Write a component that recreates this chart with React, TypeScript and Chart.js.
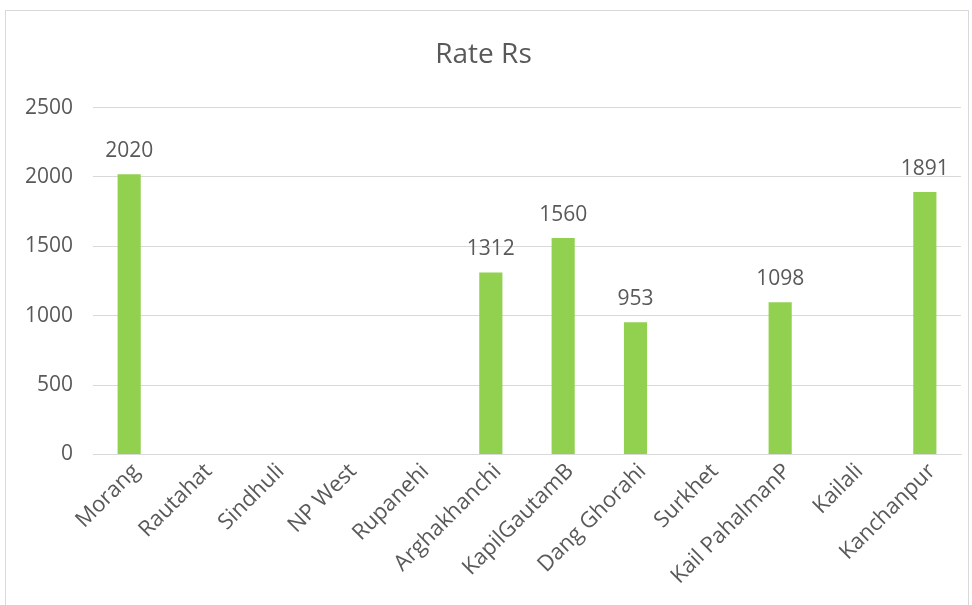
import React, { useEffect, useRef } from "react";
import { Chart, registerables } from "chart.js";

Chart.register(...registerables);

const chartTitle = "Rate Rs";
const categories = [
  "Morang",
  "Rautahat",
  "Sindhuli",
  "NP West",
  "Rupanehi",
  "Arghakhanchi",
  "KapilGautamB",
  "Dang Ghorahi",
  "Surkhet",
  "Kail PahalmanP",
  "Kailali",
  "Kanchanpur",
];
const rateValues: (number | null)[] = [2020, null, null, null, null, 1312, 1560, 953, null, 1098, null, 1891];
const yTicks = [0, 500, 1000, 1500, 2000, 2500];

const FONT = "'Open Sans', sans-serif";
const TEXT = "#595959";
const GRID = "#d9d9d9";
const BAR = "#92D050";

const dataLabels = {
  id: "dataLabels",
  afterDatasetsDraw(chart: any) {
    const ctx = chart.ctx;
    const meta = chart.getDatasetMeta(0);
    ctx.save();
    ctx.font = `21px ${FONT}`;
    ctx.fillStyle = TEXT;
    ctx.textAlign = "center";
    ctx.textBaseline = "alphabetic";
    meta.data.forEach((el: any, i: number) => {
      const v = rateValues[i];
      if (v === null || v === undefined) return;
      ctx.fillText(String(v), el.x, el.y - 17);
    });
    ctx.restore();
  },
};

export default function App() {
  const ref = useRef<HTMLCanvasElement | null>(null);
  useEffect(() => {
    if (!ref.current) return;
    const chart = new Chart(ref.current, {
      type: "bar",
      data: {
        labels: categories,
        datasets: [
          {
            label: chartTitle,
            data: rateValues,
            backgroundColor: BAR,
            borderWidth: 0,
            barPercentage: 0.32,
            categoryPercentage: 1,
          },
        ],
      },
      options: {
        responsive: false,
        animation: false,
        layout: { padding: { left: 0, right: 7, top: 0, bottom: 0 } },
        plugins: {
          legend: { display: false },
          tooltip: { enabled: false },
          title: {
            display: true,
            text: chartTitle,
            color: TEXT,
            font: { family: FONT, size: 28, weight: "normal", lineHeight: 1.2 },
            padding: { top: 27, bottom: 36 },
          },
        },
        scales: {
          x: {
            grid: { display: false, drawTicks: false },
            border: { display: true, color: GRID, width: 1 },
            ticks: {
              color: TEXT,
              font: { family: FONT, size: 22 },
              minRotation: 45,
              maxRotation: 45,
              padding: 4,
              labelOffset: 7,
              autoSkip: false,
            },
            afterFit: (s: any) => {
              s.height = 154.5;
            },
          },
          y: {
            min: 0,
            max: 2500,
            afterBuildTicks: (s: any) => {
              s.ticks = yTicks.map((v) => ({ value: v }));
            },
            grid: { color: GRID, lineWidth: 1, drawTicks: false },
            border: { display: false },
            ticks: {
              color: TEXT,
              font: { family: FONT, size: 21 },
              padding: 20,
              callback: (v: any) => String(v),
            },
            afterFit: (s: any) => {
              s.width = 87;
            },
          },
        },
      },
      plugins: [dataLabels],
    });
    return () => chart.destroy();
  }, []);

  return (
    <div style={{ position: "fixed", left: 0, top: 0, width: 972, height: 605, background: "#fff", overflow: "hidden" }}>
      <div
        style={{
          position: "absolute",
          left: 5,
          top: 10,
          width: 964,
          height: 600,
          border: `1px solid ${GRID}`,
          boxSizing: "border-box",
        }}
      >
        <canvas ref={ref} width={962} height={598} style={{ display: "block" }} />
      </div>
    </div>
  );
}
